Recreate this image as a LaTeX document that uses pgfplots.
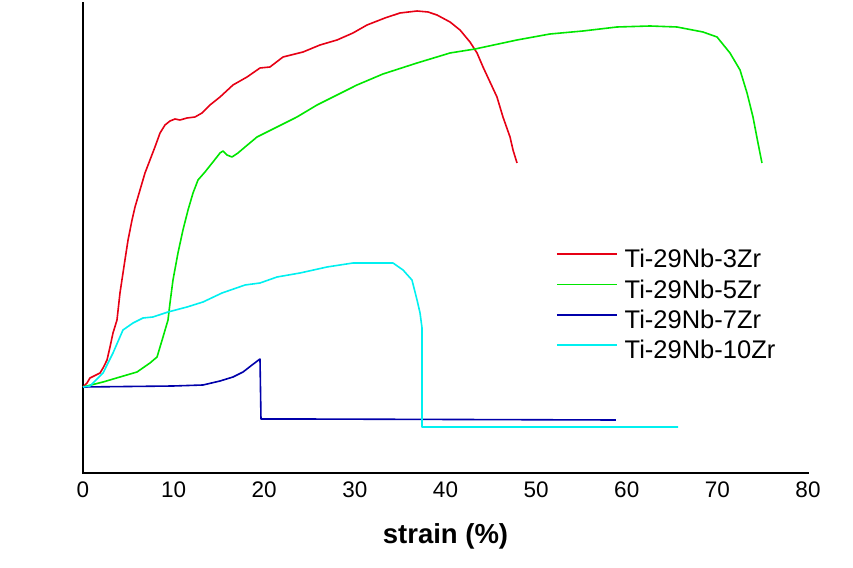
\documentclass[border=0pt]{standalone}
\usepackage{fontspec}
\setmainfont{Liberation Sans}
\usepackage{pgfplots}
\pgfplotsset{compat=1.18}

\definecolor{c3}{RGB}{230,0,20}
\definecolor{c5}{RGB}{0,230,0}
\definecolor{c7}{RGB}{0,0,170}
\definecolor{c10}{RGB}{0,240,240}

\begin{document}
\begin{tikzpicture}
\useasboundingbox (-83pt,-94pt) rectangle (770pt,473pt);
\begin{axis}[
  at={(0,0)}, anchor=south west,
  scale only axis, width=725pt, height=470pt,
  xmin=0, xmax=80, ymin=0, ymax=470,
  axis lines*=left,
  axis line style={line width=2.6pt, black, line cap=rect},
  xtick={0,10,...,80}, ytick=\empty,
  major tick length=0pt,
  /pgf/number format/assume math mode=true,
  x tick label style={font=\fontsize{22.5}{22.5}\selectfont, yshift=-5pt},
  xlabel={\textbf{strain (\%)}},
  xlabel style={font=\fontsize{27.5}{27.5}\selectfont, at={(axis description cs:0.5,0)}, anchor=base, yshift=-70pt},
  clip=false,
  legend cell align=left,
  legend style={at={(axis cs:52.2,225)}, anchor=north west, draw=none, fill=none,
    inner sep=0pt, outer sep=0pt, row sep=0pt, column sep=7pt,
    font=\fontsize{25.5}{30}\selectfont,
    nodes={text height=20pt, text depth=10.3pt, inner sep=0pt}},
  legend image code/.code={\draw[#1] (0pt,9pt) -- (60pt,9pt);},
  every axis plot/.append style={line width=1.6pt, line join=round},
]
\addplot[c3] coordinates {
(0,86) (0.44,90) (0.77,95) (1.88,100) (2.21,105) (2.65,113) (2.98,126) (3.31,140)
(3.75,153) (4.08,180) (4.63,213) (4.97,233) (5.41,253) (5.74,266) (6.29,283) (6.84,300)
(7.39,313) (7.94,326) (8.50,340) (9.05,348) (9.60,352) (10.15,354) (10.70,353) (11.48,355)
(12.36,356) (13.13,360) (14.01,368) (15.12,376) (16.55,388) (18.10,396) (19.53,405) (20.63,406)
(22.07,416) (24.28,421) (26.15,428) (28.03,433) (29.79,440) (31.34,448) (33.32,455) (34.98,460)
(36.86,462) (38.07,461) (39.06,458) (40.50,451) (41.60,443) (42.70,431) (43.48,420) (44.14,406)
(44.91,391) (45.68,376) (46.34,356) (47.12,336) (47.45,323) (47.89,310)
};
\addlegendentry{Ti-29Nb-3Zr}
\addplot[c5] coordinates {
(0,86) (2.21,91) (4.08,96) (5.96,101) (7.39,110) (8.17,116) (8.83,136) (9.38,153)
(9.60,170) (9.93,193) (10.48,220) (11.03,243) (11.59,263) (12.14,280) (12.69,293) (13.46,301)
(14.34,311) (15.12,320) (15.45,322) (15.89,318) (16.44,316) (17.10,320) (17.88,326) (19.20,336)
(21.41,346) (23.61,356) (25.82,368) (28.03,378) (30.23,388) (33.10,399) (36.86,410) (40.50,420)
(43.26,424) (47.89,433) (51.53,439) (55.17,442) (58.92,446) (62.57,447) (65.54,446) (68.41,441)
(69.96,436) (71.39,420) (72.50,403) (73.27,380) (73.93,356) (74.48,330) (74.92,310)
};
\addlegendentry{Ti-29Nb-5Zr}
\addplot[c7] coordinates {
(0,86) (9.93,87) (13.24,88) (15.12,92) (16.55,96) (17.66,101) (18.65,108) (19.53,114)
(19.64,54) (23.94,54) (58.81,53)
};
\addlegendentry{Ti-29Nb-7Zr}
\addplot[c10] coordinates {
(0,86) (0.77,87) (2.21,100) (3.31,120) (4.41,143) (5.52,150) (6.62,155) (7.72,156)
(9.38,161) (11.48,166) (13.24,171) (15.34,180) (17.88,188) (19.53,190) (21.41,196) (23.94,200)
(26.92,206) (29.79,210) (34.21,210) (35.31,203) (36.30,193) (36.86,173) (37.19,160) (37.41,145)
(37.41,46) (65.66,46)
};
\addlegendentry{Ti-29Nb-10Zr}
\end{axis}
\end{tikzpicture}
\end{document}
